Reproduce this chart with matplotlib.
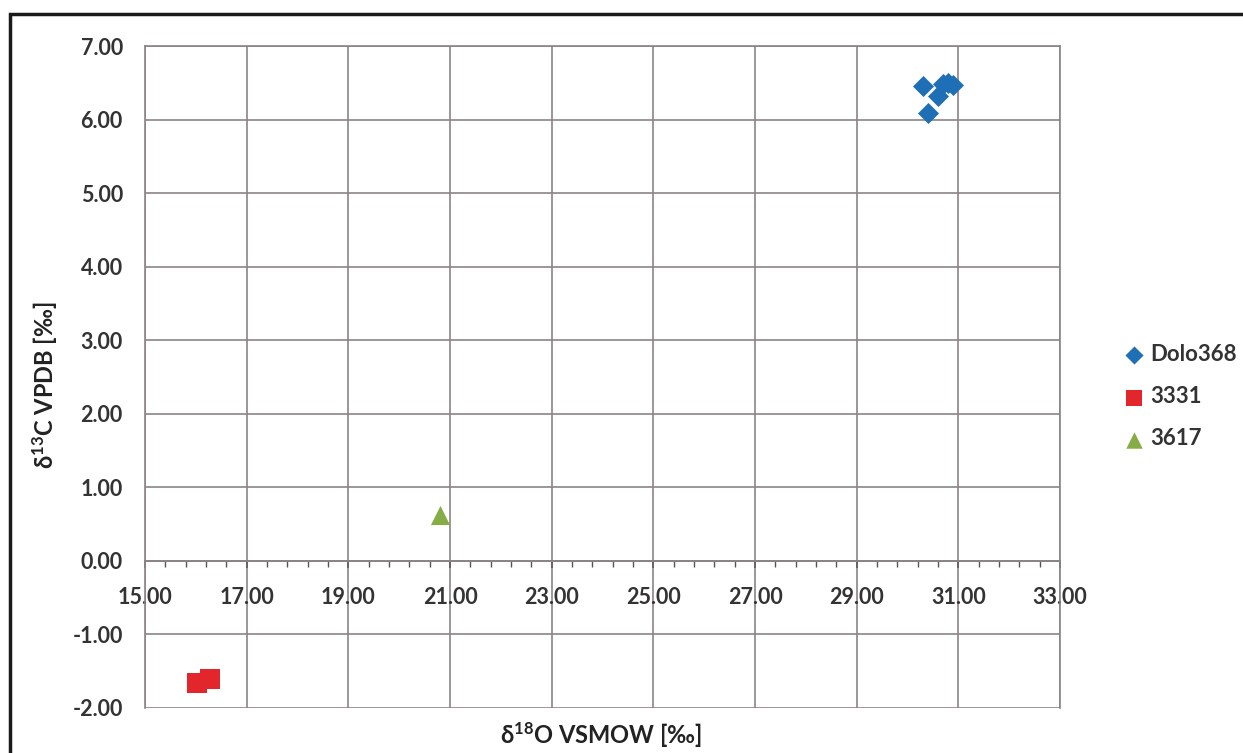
"""
Stable isotope cross-plot: d13C vs d18O for three sample groups
"""

import numpy as np
import matplotlib
matplotlib.use("Agg")
import matplotlib.pyplot as plt
from matplotlib.ticker import FixedLocator, MultipleLocator, FormatStrFormatter
from matplotlib.patches import Rectangle

plt.rcParams["font.family"] = ["Lato", "DejaVu Sans"]
plt.rcParams["font.weight"] = "bold"
plt.rcParams["axes.unicode_minus"] = False
plt.rcParams["mathtext.fontset"] = "custom"
plt.rcParams["mathtext.rm"] = "Lato:bold"
plt.rcParams["mathtext.it"] = "Lato:bold"
plt.rcParams["mathtext.bf"] = "Lato:bold"
plt.rcParams["mathtext.default"] = "regular"

# data
series_names = ["Dolo368", "3331", "3617"]
dolo_x = [30.31, 30.41, 30.60, 30.70, 30.80, 30.90]
dolo_y = [6.46, 6.09, 6.32, 6.49, 6.50, 6.47]
s3331_x = [16.02, 16.27]
s3331_y = [-1.66, -1.60]
s3617_x = [20.80]
s3617_y = [0.62]

x_ticks = [15, 17, 19, 21, 23, 25, 27, 29, 31, 33]

GRID = "#8c8484"

fig = plt.figure(figsize=(12.43, 7.53), dpi=100)
ax = fig.add_axes([0.1167, 0.0598, 0.8528 - 0.1167, 0.9389 - 0.0598])

ax.scatter(dolo_x, dolo_y, marker="D", s=115, color="#1f6fb6", label=series_names[0], zorder=3, linewidths=0)
ax.scatter(s3331_x, s3331_y, marker="s", s=190, color="#e2262c", label=series_names[1], zorder=3, linewidths=0)
ax.scatter(s3617_x, s3617_y, marker="^", s=190, color="#86ad45", label=series_names[2], zorder=3, linewidths=0)

ax.set_xlim(15, 33)
ax.set_ylim(-2, 7)
ax.xaxis.set_major_locator(FixedLocator(x_ticks))
ax.xaxis.set_minor_locator(FixedLocator(np.arange(15, 33.01, 0.4)))
ax.yaxis.set_major_locator(MultipleLocator(1))
ax.xaxis.set_major_formatter(FormatStrFormatter("%.2f"))
ax.yaxis.set_major_formatter(FormatStrFormatter("%.2f"))

ax.grid(True, which="major", color=GRID, linewidth=1.2)
ax.set_axisbelow(True)

for side in ["top", "left", "right"]:
    ax.spines[side].set_color(GRID)
    ax.spines[side].set_linewidth(1.2)
ax.spines["bottom"].set_position(("data", 0))
ax.spines["bottom"].set_color(GRID)
ax.spines["bottom"].set_linewidth(1.4)

ax.tick_params(axis="x", which="major", direction="out", length=5, width=1.1, color="#555555",
               pad=14, labelsize=15.5, labelcolor="#333333")
ax.tick_params(axis="x", which="minor", direction="out", length=4, width=1.0, color="#555555")
ax.tick_params(axis="y", which="major", direction="out", length=0, pad=16, labelsize=15.5,
               labelcolor="#333333")
for lbl in ax.get_xticklabels() + ax.get_yticklabels():
    lbl.set_fontweight("bold")

fig.text(0.4837, 0.024, r"$\delta^{18}$O VSMOW [‰]", ha="center", va="center",
         fontsize=17, fontweight="bold", color="#222222")
fig.text(0.036, 0.489, r"$\delta^{13}$C VPDB [‰]", ha="center", va="center",
         rotation=90, fontsize=17, fontweight="bold", color="#222222")

leg = ax.legend(loc="center left", bbox_to_anchor=(1.05, 0.47), frameon=False,
                fontsize=16, labelspacing=0.95, handlelength=0.75, handletextpad=0.35,
                markerscale=0.86)
for t in leg.get_texts():
    t.set_fontweight("bold")
    t.set_color("#333333")

# chart-area border from the scanned original
fig.add_artist(Rectangle((10 / 1243, -0.02), 1.05, 1 - 14 / 753 + 0.02,
                         transform=fig.transFigure, fill=False,
                         edgecolor="#1a1a1a", linewidth=2.5))

fig.savefig("out.png", dpi=100)
